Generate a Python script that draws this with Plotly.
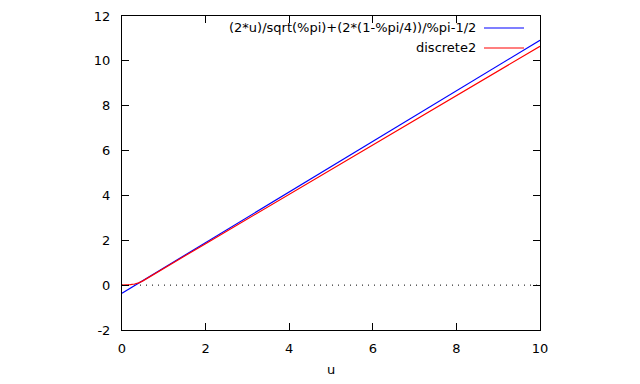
import plotly.graph_objects as go

# Data
u_blue = [0.0, 10.0]
v_blue = [-0.36, 10.92]

u_red = [0.0, 0.1, 0.2, 0.3, 0.4, 0.5, 0.75, 1.0, 1.5, 2.0, 3.0, 4.0, 5.0, 6.0, 7.0, 8.0, 9.0, 10.0]
v_red = [0.0, 0.005, 0.02, 0.05, 0.10, 0.19, 0.46, 0.74, 1.30, 1.85, 2.95, 4.05, 5.15, 6.25, 7.35, 8.45, 9.55, 10.65]

label_blue = "(2*u)/sqrt(%pi)+(2*(1-%pi/4))/%pi-1/2"
label_red = "discrete2"

x_ticks = [0, 2, 4, 6, 8, 10]
y_ticks = [-2, 0, 2, 4, 6, 8, 10, 12]

FONT = "DejaVu Sans, Liberation Sans, sans-serif"
FS = 13

fig = go.Figure()
fig.add_trace(go.Scatter(x=u_blue, y=v_blue, mode="lines", line=dict(color="#0000ff", width=1.2),
                         showlegend=False, name=label_blue))
fig.add_trace(go.Scatter(x=u_red, y=v_red, mode="lines", line=dict(color="#ff0000", width=1.2),
                         showlegend=False, name=label_red))

# zero line (dotted)
fig.add_shape(type="line", xref="x", yref="y", x0=0, x1=10, y0=0, y1=0,
              line=dict(color="black", width=1, dash="1px,5px"), layer="below")

# legend drawn gnuplot-style: text right-aligned, sample on the right
legend_rows = [(label_blue, "#0000ff", 28), (label_red, "#ff0000", 48)]
for text, color, ypx in legend_rows:
    yp = 1 - (ypx - 16) / 314
    fig.add_annotation(xref="paper", yref="paper", x=(478 - 122) / 418, y=yp, text=text,
                       showarrow=False, xanchor="right", yanchor="middle",
                       font=dict(family=FONT, size=FS, color="black"))
    fig.add_shape(type="line", xref="paper", yref="paper",
                  x0=(484 - 122) / 418, x1=(524 - 122) / 418, y0=yp, y1=yp,
                  line=dict(color=color, width=1.2))

axis_common = dict(showgrid=False, zeroline=False, showline=True, linecolor="black", linewidth=1,
                   mirror="allticks", ticks="inside", ticklen=7, tickwidth=1, tickcolor="black",
                   automargin=False,
                   tickfont=dict(family=FONT, size=FS, color="black"))

fig.update_xaxes(range=[0, 10], tickvals=x_ticks, ticktext=[str(t) for t in x_ticks],
                 ticklabelstandoff=6,
                 title=dict(text="u", font=dict(family=FONT, size=FS, color="black"), standoff=10),
                 **axis_common)
fig.update_yaxes(range=[-2, 12], tickvals=y_ticks, ticktext=[str(t) for t in y_ticks],
                 ticklabelstandoff=8,
                 **axis_common)

fig.update_layout(width=640, height=384, margin=dict(l=122, r=100, t=16, b=54),
                  plot_bgcolor="white", paper_bgcolor="white",
                  font=dict(family=FONT, size=FS, color="black"))

fig.write_html("out.html")
